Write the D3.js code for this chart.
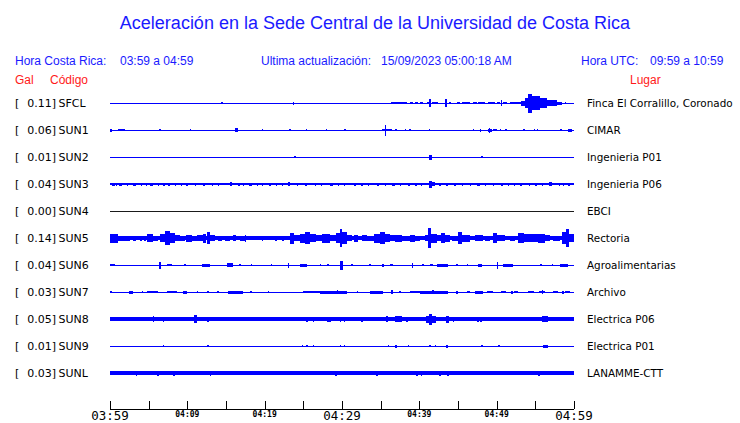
<!DOCTYPE html>
<html><head><meta charset="utf-8">
<script src="https://cdn.jsdelivr.net/npm/d3@7"></script>
<style>
html,body{margin:0;padding:0;background:#fff;}
svg{display:block;}
</style></head>
<body>
<svg id="chart" width="740" height="423"></svg>
<script>
// ---------------- DATA ----------------
const codes = ["SFCL","SUN1","SUN2","SUN3","SUN4","SUN5","SUN6","SUN7","SUN8","SUN9","SUNL"];
const galValues = [0.11,0.06,0.01,0.04,0.00,0.14,0.04,0.03,0.05,0.01,0.03];
const places = ["Finca El Corralillo, Coronado","CIMAR","Ingenieria P01","Ingenieria P06","EBCI","Rectoria","Agroalimentarias","Archivo","Electrica P06","Electrica P01","LANAMME-CTT"];
// background noise half-amplitude per station (trace units)
const noiseLevel = [0.5,0.5,0.5,1,0.5,1.7,0.5,0.5,1.7,0.5,1.7];
// bursts: [start minute, end minute, half-amplitude] (minutes after 03:59)
const burstsSFCL = [[14.4,14.6,1],[23.6,23.8,1.5],[36.3,38.4,1.2],[38.8,39.2,1],[39.4,39.8,1],[40.1,40.5,1],[41.0,41.4,1.2],[41.3,41.5,4],[41.6,42.4,1.2],[43.3,43.6,4],[43.9,44.1,1],[44.9,45.3,1],[45.5,46.5,1.2],[46.9,47.5,1],[47.6,48.5,1.2],[48.9,49.8,1],[50.0,50.4,1.2],[50.5,50.7,3],[50.8,51.3,1],[51.7,52.1,1],[52.1,53.1,1.2],[53.1,53.7,2.5],[53.7,54.0,5],[54.0,54.6,9.5],[54.6,55.6,7],[55.6,56.5,5],[56.5,57.8,3],[57.8,58.4,1.5],[58.8,59.0,1]];
const burstsSUN1 = [[0,0.3,1.5],[1.0,2.0,1],[6.4,6.6,1],[10.3,10.5,1],[16.2,16.5,2],[19.6,19.8,1],[23.2,23.4,1],[25.3,25.5,1],[27.9,28.1,1],[30.3,30.5,1],[35.2,36.5,1.2],[35.5,35.7,5.5],[36.9,37.1,1],[38.1,38.3,1],[38.7,38.9,1],[41.2,41.4,1],[46.9,47.1,1],[47.8,48.0,1.5],[48.9,49.4,1.5],[49.0,49.2,2.5],[49.5,50.0,1.2],[50.4,50.6,1],[51.1,51.3,1],[53.4,53.6,1],[54.8,55.0,1],[55.2,55.4,1],[58.2,58.4,1],[59.2,59.7,1.5]];
const burstsSUN2 = [[23.8,24.0,0.7],[41.3,41.6,2.5],[48.0,48.2,1]];
const burstsSUN3 = [[0.2,0.6,1.5],[0.8,0.95,1.5],[1.2,1.5,1.5],[2.2,2.35,1.5],[3.0,3.3,1.5],[4.0,4.15,1.5],[4.6,4.75,1.5],[5.2,5.5,1.5],[6.2,6.35,1.5],[6.9,7.05,1.5],[7.5,7.8,1.5],[8.4,8.55,1.5],[9.2,9.35,1.5],[9.8,10.1,1.5],[11.0,11.15,1.5],[12.0,12.3,1.5],[13.2,13.35,1.5],[14.0,14.15,1.5],[15.5,15.8,2],[16.6,16.75,1.5],[17.2,17.35,1.5],[18.0,18.3,1.5],[19.0,19.15,1.5],[19.6,19.75,1.5],[20.5,20.8,1.5],[21.5,21.65,1.5],[22.2,22.35,1.5],[23.0,23.3,2],[24.2,24.35,1.5],[25.2,25.5,1.5],[26.5,26.65,1.5],[27.3,27.45,1.5],[28.5,28.8,1.5],[29.5,29.65,1.5],[30.2,30.35,1.5],[31.5,31.8,1.5],[32.5,32.65,1.5],[33.4,33.55,1.5],[34.5,34.8,1.5],[35.5,35.65,1.5],[36.5,36.8,1.5],[37.5,37.65,1.5],[38.5,38.8,1.5],[39.5,39.65,1.5],[40.2,40.35,1.5],[41.3,41.6,3.5],[41.7,42.0,2],[42.6,42.75,1.5],[43.5,43.65,1.5],[44.5,44.8,1.5],[45.5,45.65,1.5],[46.5,46.65,1.5],[47.5,47.8,1.5],[48.5,48.65,1.5],[49.5,49.65,1.5],[50.5,50.8,1.5],[51.5,51.65,1.5],[52.2,52.35,1.5],[53.0,53.3,1.5],[54.2,54.35,1.5],[55.0,55.15,1.5],[55.8,55.95,1.5],[56.8,57.1,2],[58.0,58.15,1.5],[58.6,58.75,1.5],[59.2,59.5,1.5]];
const burstsSUN4 = [];
const burstsSUN5 = [[0,1.0,4.5],[1.0,2.6,2.5],[3.0,3.4,2.5],[3.9,4.1,2.5],[4.4,4.7,2.5],[4.8,5.6,4],[5.6,6.2,2.5],[6.5,7.1,4],[7.1,7.8,7],[7.8,8.4,5],[8.4,9.1,3],[9.1,9.7,2.5],[9.8,10.6,3.5],[10.6,11.2,2.5],[11.2,12.0,3],[12.0,12.4,4.5],[12.5,12.9,6],[12.9,13.6,3],[14.0,14.5,2.5],[14.9,15.5,2.5],[15.9,16.3,3],[16.8,17.5,2.5],[17.4,17.6,3.5],[19.6,19.8,2.5],[21.4,21.6,2.5],[22.3,22.5,2.5],[23.3,23.8,5.5],[23.8,24.6,3],[24.6,25.2,4.5],[25.2,25.9,6],[25.9,26.6,4],[26.6,27.4,3],[27.4,28.5,4.5],[28.5,29.2,3],[29.2,29.7,5],[29.7,30.0,9],[30.0,30.6,6],[30.6,31.3,3],[31.6,32.1,3.5],[32.6,33.2,3],[33.0,34.2,2.5],[34.2,34.9,4.5],[34.9,35.6,6],[35.6,36.2,4],[36.2,36.9,3],[36.9,37.8,3.5],[37.8,38.8,2.5],[38.8,39.4,3.5],[39.4,40.1,2.5],[40.7,41.1,3],[41.1,41.5,10],[41.5,42.3,4.5],[42.3,42.8,3],[42.8,43.3,5],[43.3,44.0,3.5],[44.2,45.0,2.5],[45.0,45.5,6],[45.5,46.5,3.5],[47.2,48.2,3],[48.5,49.1,2.5],[49.5,50.0,5],[50.0,51.1,3],[51.7,52.4,2.5],[52.8,53.5,5],[53.5,55.3,4],[55.3,56.2,4.5],[56.2,56.9,3],[57.3,58.2,2.5],[58.4,59.0,6],[59.0,59.4,9],[59.4,60,4]];
const burstsSUN6 = [[0,0.6,1],[6.4,6.6,3.5],[7.4,8.0,1],[9.6,9.8,1],[11.9,12.9,1.5],[15.1,15.9,2],[16.7,16.9,1],[18.2,18.4,1],[20.8,21.0,1],[23.0,23.2,2.5],[24.6,25.5,1.5],[27.1,27.3,1],[28.1,28.3,1],[29.7,30.1,4.5],[31.2,31.4,1],[33.5,33.7,0.7],[35.2,35.4,1.5],[36.2,36.6,1],[39.0,39.2,2.5],[40.4,40.6,1],[41.4,41.8,1],[42.3,43.7,1.5],[44.8,45.0,1],[46.1,46.3,1],[47.6,48.1,1.5],[50.0,50.2,3.5],[50.8,52.1,1.5],[55.6,55.8,1],[57.1,57.3,1],[58.2,59.2,1.5]];
const burstsSUN7 = [[0,0.2,0.7],[2.5,3.0,1.5],[4.1,4.3,1],[4.8,6.2,1],[7.4,8.7,1],[9.4,10.0,1.5],[11.2,11.4,0.7],[12.6,12.8,1],[13.9,14.1,1],[15.3,17.2,1.5],[18.1,18.3,1],[20.4,20.6,1],[24.9,27.2,1],[27.2,30.6,1.5],[29.3,29.5,2],[31.9,32.1,1],[33.6,35.3,1.5],[36.4,36.6,2],[37.4,37.6,1],[38.8,40.1,1],[40.1,43.7,1.5],[41.7,41.9,2],[44.8,45.0,1.5],[46.1,46.6,1],[47.2,48.2,1.5],[48.8,49.5,1],[50.5,51.2,1],[51.9,52.1,1.5],[52.3,52.7,1],[54.0,54.8,1],[55.5,56.2,1],[55.8,56.0,2],[57.3,57.9,1],[58.5,58.7,1.5],[58.8,59.5,1]];
const burstsSUN8 = [[5.5,5.7,3],[6.8,7.0,2.5],[10.9,11.2,4],[12.6,12.8,2.5],[25.4,25.6,2.5],[26.2,26.4,2.5],[28.0,28.6,2.5],[29.7,29.9,2.5],[30.2,30.4,2.5],[32.5,32.7,2.5],[35.7,36.0,3],[36.8,37.8,3],[38.3,38.5,2.5],[40.9,41.3,3.5],[41.3,41.7,5.5],[41.7,42.1,3.5],[43.5,43.8,3.5],[44.3,44.5,2.5],[47.5,47.7,2.5],[47.9,48.1,2.5],[53.0,53.2,2],[53.9,54.1,2],[55.8,56.6,3]];
const burstsSUN9 = [[6.8,7.0,1],[12.6,12.8,1],[24.8,25.0,1],[25.4,25.6,1],[26.2,26.4,0.7],[29.7,29.9,1],[30.2,30.4,1],[35.9,36.1,1],[36.9,37.1,1.5],[38.5,38.7,0.7],[41.3,41.5,1],[42.0,42.2,1],[43.5,43.7,1.5],[48.0,48.2,1],[50.2,50.4,0.7],[56.0,56.6,1.5]];
const burstsSUNL = [[3.3,3.5,2.5],[6.1,6.3,2.5],[8.2,8.4,2.5],[12.9,13.1,2.5],[29.1,29.3,2.5],[34.4,34.6,2.5],[39.6,39.8,2.5],[40.2,40.4,2.5],[42.6,42.8,2.5],[43.6,43.8,2.5],[55.4,55.6,2.5],[56.0,56.2,2]];
const burstsByStation = [burstsSFCL,burstsSUN1,burstsSUN2,burstsSUN3,burstsSUN4,burstsSUN5,burstsSUN6,burstsSUN7,burstsSUN8,burstsSUN9,burstsSUNL];

const tickMinutes = [0,5,10,15,20,25,30,35,40,45,50,55,60];
const tickLabelMinutes = [0,10,20,30,40,50,60];
const tickLabels = ["03:59","04:09","04:19","04:29","04:39","04:49","04:59"];
const majorLabelMinutes = [0,30,60];

const titleText = "Aceleración en la Sede Central de la Universidad de Costa Rica";
const horaCR = "03:59 a 04:59";
const horaUTC = "09:59 a 10:59";
const actualizacion = "15/09/2023 05:00:18 AM";

// ---------------- DRAW ----------------
const svg = d3.select("#chart");
const BLUE = "#0000ff";
const TXTBLUE = "#1a1aff";
const RED = "#ff1a1a";

const x = d3.scaleLinear().domain([0,60]).range([110,574]);
const y = d3.scalePoint().domain(codes).range([103,373]);
const amp = d3.scaleLinear().domain([0,10]).range([0,10]);

// title & header
svg.append("text").attr("x",375).attr("y",29).attr("text-anchor","middle")
  .attr("font-family","Liberation Sans, Arial, sans-serif").attr("font-size",18)
  .attr("fill",TXTBLUE).text(titleText);

const hdr = [
  {t:"Hora Costa Rica:",x:15,c:TXTBLUE,yy:65},
  {t:horaCR,x:120,c:TXTBLUE,yy:65},
  {t:"Ultima actualización:",x:261,c:TXTBLUE,yy:65},
  {t:actualizacion,x:381,c:TXTBLUE,yy:65},
  {t:"Hora UTC:",x:581,c:TXTBLUE,yy:65},
  {t:horaUTC,x:650,c:TXTBLUE,yy:65},
  {t:"Gal",x:15,c:RED,yy:84},
  {t:"Código",x:50,c:RED,yy:84},
  {t:"Lugar",x:630,c:RED,yy:84}
];
svg.selectAll("text.hdr").data(hdr).enter().append("text").attr("class","hdr")
  .attr("x",d=>d.x).attr("y",d=>d.yy)
  .attr("font-family","Liberation Sans, Arial, sans-serif").attr("font-size",12)
  .attr("fill",d=>d.c).text(d=>d.t);

// station labels
const rows = svg.append("g");
codes.forEach((c,i)=>{
  const yc = y(c);
  rows.append("text").attr("x",15).attr("y",yc+4).attr("font-family","DejaVu Sans, sans-serif")
    .attr("font-size",11).attr("fill","#000").text("[");
  rows.append("text").attr("x",56).attr("y",yc+4).attr("text-anchor","end").attr("font-family","DejaVu Sans, sans-serif")
    .attr("font-size",11).attr("fill","#000").text(galValues[i].toFixed(2)+"]");
  rows.append("text").attr("x",58.5).attr("y",yc+4).attr("font-family","DejaVu Sans, sans-serif")
    .attr("font-size",11).attr("fill","#000").text(c);
  rows.append("text").attr("x",587).attr("y",yc+4).attr("font-family","DejaVu Sans, sans-serif")
    .attr("font-size",10.4).attr("fill","#000").text(places[i]);
});

// traces
const traces = svg.append("g").attr("shape-rendering","crispEdges");
codes.forEach((c,i)=>{
  const yc = y(c);
  const col = c==="SUN4" ? "#1a1a1a" : BLUE;
  const nl = amp(noiseLevel[i]);
  traces.append("rect").attr("x",x(0)).attr("width",x(60)-x(0))
    .attr("y",yc-nl).attr("height",Math.max(1,2*nl)).attr("fill",col);
  traces.selectAll(null).data(burstsByStation[i]).enter().append("rect")
    .attr("x",d=>x(d[0])).attr("width",d=>Math.max(1.2,x(d[1])-x(d[0])))
    .attr("y",d=>yc-amp(d[2])).attr("height",d=>2*amp(d[2])).attr("fill",col);
});

// axis
const axisY = 409;
const axis = svg.append("g").attr("transform",`translate(0,${axisY})`);
axis.call(d3.axisTop(x).tickValues(tickMinutes).tickSize(8).tickFormat(""));
axis.select(".domain").attr("d",`M${x(0)},0.5H${x(60)}`).attr("stroke","#000");
axis.selectAll(".tick line").attr("stroke","#000");
axis.attr("shape-rendering","crispEdges");
svg.selectAll("text.tl").data(tickLabelMinutes).enter().append("text").attr("class","tl")
  .attr("x",d=>x(d)).attr("y",d=>majorLabelMinutes.includes(d)?420:417)
  .attr("text-anchor","middle")
  .attr("font-family","DejaVu Sans Mono, monospace")
  .attr("font-weight",d=>majorLabelMinutes.includes(d)?"normal":"bold")
  .attr("font-size",d=>majorLabelMinutes.includes(d)?12.5:8)
  .attr("fill","#000")
  .text((d,i)=>tickLabels[i]);
</script>
</body></html>
